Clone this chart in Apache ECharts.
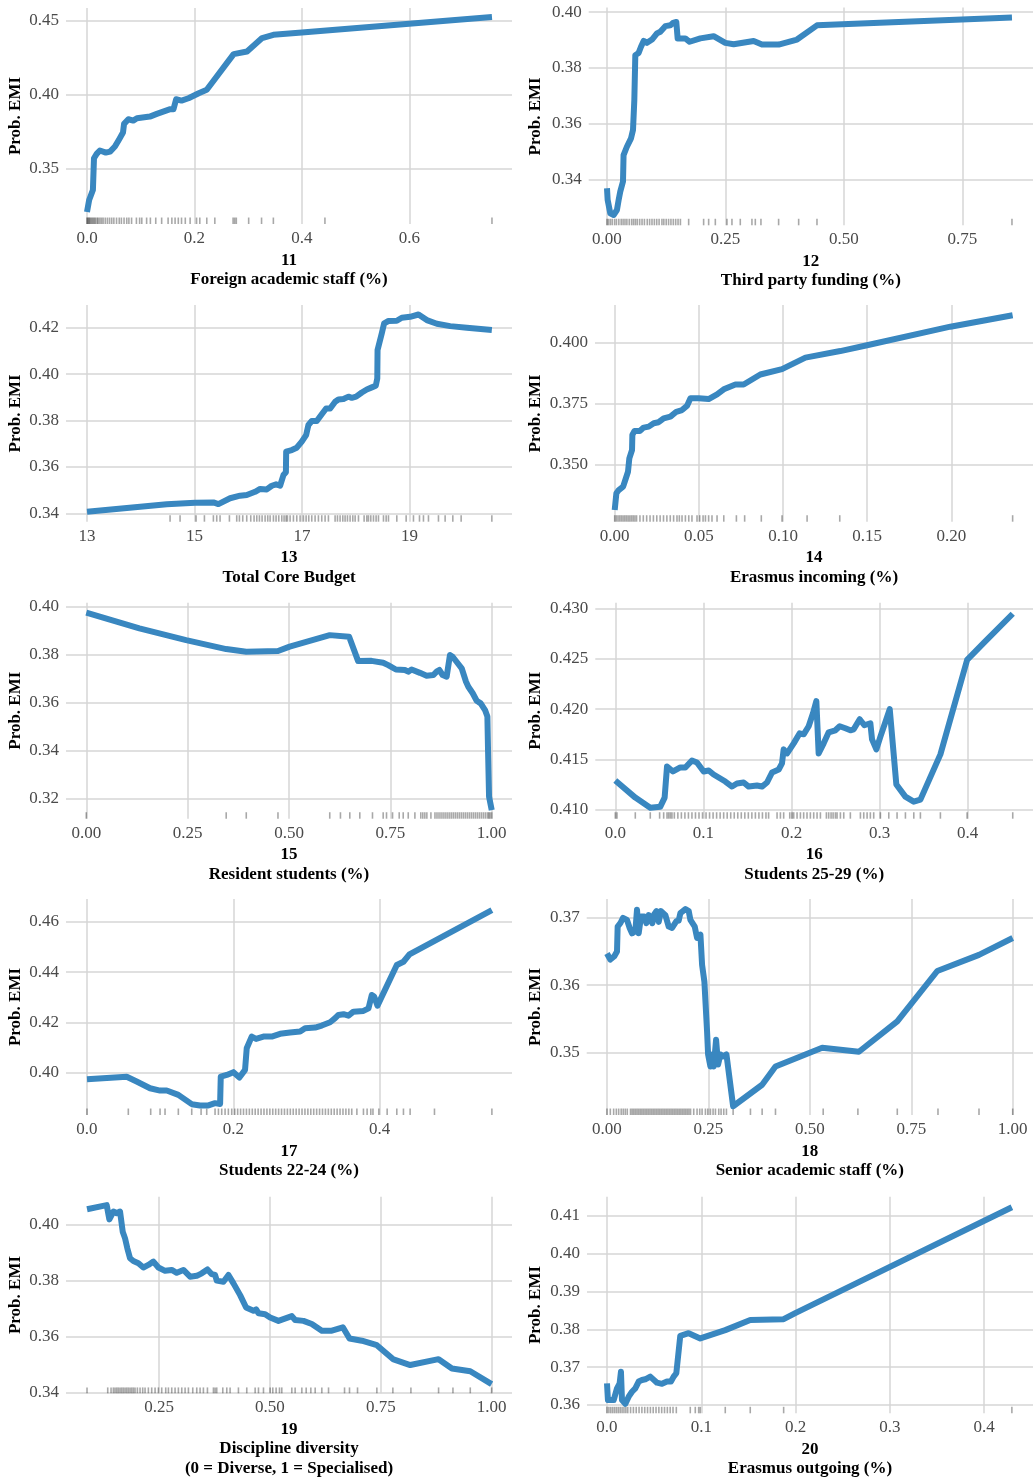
<!DOCTYPE html>
<html><head><meta charset="utf-8">
<script src="https://cdn.jsdelivr.net/npm/echarts@6/dist/echarts.min.js"></script>
<style>html,body{margin:0;padding:0;background:#fff}#c{width:1034px;height:1479px}</style>
</head><body><div id="c"></div><script>
// ---------- DATA ----------
const yTitle = 'Prob. EMI';
const pdp11 = [[0,0.3207],[0.004,0.3288],[0.011,0.3356],[0.013,0.357],[0.018,0.3599],[0.024,0.3622],[0.035,0.3608],[0.043,0.3615],[0.052,0.3649],[0.060,0.3698],[0.067,0.3743],[0.069,0.3802],[0.077,0.3833],[0.086,0.3824],[0.093,0.384],[0.117,0.3851],[0.130,0.3869],[0.155,0.3901],[0.161,0.3901],[0.166,0.3968],[0.176,0.3959],[0.189,0.3975],[0.208,0.4009],[0.223,0.4032],[0.273,0.4273],[0.298,0.429],[0.326,0.4381],[0.347,0.4403],[0.400,0.4419],[0.754,0.4523]];
const rug11 = [0,0.001,0.003,0.004,0.006,0.008,0.010,0.012,0.014,0.016,0.019,0.021,0.024,0.027,0.030,0.034,0.038,0.042,0.046,0.050,0.055,0.060,0.064,0.069,0.074,0.078,0.083,0.092,0.098,0.102,0.111,0.118,0.128,0.139,0.151,0.158,0.164,0.170,0.176,0.183,0.192,0.204,0.210,0.223,0.238,0.272,0.275,0.278,0.301,0.325,0.347,0.443,0.754];
const pdp12 = [[0,0.3368],[0.0014,0.3326],[0.007,0.3278],[0.014,0.3272],[0.021,0.329],[0.0246,0.3326],[0.028,0.3356],[0.0338,0.3392],[0.035,0.3487],[0.042,0.3517],[0.0507,0.3547],[0.0549,0.3577],[0.0577,0.3684],[0.0598,0.3846],[0.0668,0.3854],[0.0718,0.3876],[0.0774,0.3897],[0.0844,0.389],[0.095,0.3902],[0.1055,0.3924],[0.1126,0.393],[0.1231,0.395],[0.1337,0.3953],[0.1393,0.3962],[0.1463,0.3965],[0.1492,0.3906],[0.1534,0.3912],[0.1653,0.3906],[0.1745,0.3894],[0.197,0.3906],[0.2251,0.3914],[0.2498,0.389],[0.2674,0.3885],[0.3096,0.3897],[0.3272,0.3884],[0.3624,0.3884],[0.4011,0.3902],[0.4433,0.3953],[0.8549,0.3981]];
const rug12 = [0,0.003,0.007,0.011,0.016,0.02,0.025,0.03,0.034,0.038,0.042,0.047,0.052,0.056,0.06,0.064,0.069,0.074,0.079,0.085,0.09,0.095,0.1,0.105,0.11,0.116,0.12,0.125,0.13,0.135,0.14,0.145,0.15,0.155,0.1724,0.204,0.2146,0.2287,0.2533,0.2638,0.2814,0.306,0.3131,0.325,0.3623,0.4046,0.4433,0.8549];
const pdp13 = [[13,0.3407],[14.483,0.3439],[15.01,0.3446],[15.351,0.3447],[15.444,0.344],[15.661,0.3465],[15.847,0.3476],[15.972,0.3479],[16.127,0.3493],[16.22,0.3505],[16.344,0.3503],[16.437,0.3519],[16.517,0.3525],[16.592,0.3519],[16.654,0.3565],[16.70,0.3577],[16.705,0.3666],[16.809,0.3673],[16.902,0.3683],[16.995,0.3709],[17.076,0.3737],[17.119,0.3781],[17.181,0.3798],[17.274,0.3798],[17.367,0.3827],[17.448,0.3852],[17.523,0.3852],[17.616,0.3881],[17.677,0.3891],[17.771,0.3893],[17.864,0.3903],[17.926,0.3898],[18.006,0.3903],[18.112,0.3921],[18.205,0.3934],[18.298,0.3943],[18.372,0.395],[18.40,0.3982],[18.405,0.4104],[18.484,0.4176],[18.527,0.4219],[18.608,0.4229],[18.763,0.423],[18.856,0.4243],[19.011,0.4247],[19.166,0.4257],[19.321,0.4233],[19.508,0.4217],[19.756,0.4207],[20.066,0.42],[20.531,0.419]];
const rug13 = [14.545,14.731,15.029,15.184,15.351,15.413,15.475,15.649,15.785,15.835,15.897,15.971,16.046,16.108,16.158,16.207,16.257,16.313,16.362,16.406,16.468,16.517,16.567,16.623,16.666,16.704,16.728,16.778,16.84,16.902,16.964,17.026,17.076,17.125,17.181,17.243,17.305,17.367,17.429,17.491,17.615,17.659,17.708,17.758,17.801,17.845,17.894,17.944,17.988,18.05,18.155,18.205,18.236,18.279,18.329,18.378,18.422,18.515,18.565,18.608,18.763,18.937,19.073,19.185,19.259,19.352,19.538,19.662,19.805,19.96,20.531];
const pdp14 = [[0,0.3314],[0.001,0.3383],[0.0024,0.3396],[0.005,0.341],[0.0063,0.3437],[0.0079,0.3471],[0.0087,0.3526],[0.0103,0.356],[0.0105,0.3622],[0.0117,0.3638],[0.0149,0.3638],[0.0172,0.3652],[0.0202,0.3656],[0.0232,0.367],[0.0261,0.3674],[0.0291,0.369],[0.0331,0.3697],[0.0366,0.3717],[0.04,0.3724],[0.043,0.3742],[0.045,0.3772],[0.0499,0.3772],[0.0558,0.3769],[0.0608,0.3788],[0.0648,0.3809],[0.0717,0.3829],[0.0766,0.3829],[0.0865,0.387],[0.0994,0.3892],[0.1133,0.3939],[0.134,0.3966],[0.1499,0.399],[0.1994,0.4066],[0.2364,0.4113]];
const rug14 = [0,0.001,0.002,0.003,0.004,0.005,0.006,0.007,0.008,0.009,0.010,0.011,0.012,0.013,0.015,0.017,0.019,0.021,0.023,0.025,0.027,0.029,0.031,0.033,0.035,0.037,0.0384,0.04,0.042,0.044,0.0459,0.0489,0.0505,0.0525,0.0539,0.0558,0.0578,0.0608,0.0648,0.0723,0.0772,0.0871,0.0994,0.1143,0.1337,0.2364];
const pdp15 = [[0,0.3976],[0.131,0.391],[0.2463,0.3861],[0.3451,0.3824],[0.3946,0.3813],[0.4728,0.3816],[0.5016,0.3834],[0.6005,0.3882],[0.6483,0.3875],[0.6705,0.3774],[0.7035,0.3775],[0.7323,0.3767],[0.7446,0.3757],[0.7636,0.3739],[0.7858,0.3737],[0.7941,0.373],[0.8023,0.3739],[0.8229,0.3725],[0.8394,0.3713],[0.8558,0.3716],[0.8641,0.373],[0.8707,0.3737],[0.8789,0.3716],[0.8888,0.3709],[0.8929,0.3706],[0.897,0.3799],[0.9036,0.3792],[0.9152,0.3767],[0.9259,0.3744],[0.93,0.3739],[0.9366,0.3688],[0.9423,0.3667],[0.9531,0.364],[0.9629,0.3609],[0.9728,0.3598],[0.9835,0.357],[0.9893,0.3543],[0.9909,0.3404],[0.9934,0.321],[1.0,0.3154]];
const rug15 = [0,0.3451,0.3946,0.4728,0.6005,0.6269,0.6499,0.6746,0.7059,0.7323,0.7405,0.7554,0.7718,0.7817,0.7941,0.8105,0.825,0.83,0.835,0.84,0.85,0.86,0.865,0.87,0.875,0.88,0.885,0.89,0.895,0.9,0.905,0.91,0.915,0.92,0.925,0.93,0.935,0.94,0.945,0.95,0.955,0.96,0.965,0.97,0.975,0.98,0.985,0.99,0.993,0.996,1.0];
const pdp16 = [[0,0.4129],[0.0227,0.4112],[0.0397,0.4102],[0.0511,0.4103],[0.056,0.4112],[0.0587,0.4143],[0.0655,0.4138],[0.0738,0.4142],[0.0795,0.4142],[0.087,0.4149],[0.0927,0.4147],[0.1003,0.4138],[0.106,0.4139],[0.1116,0.4135],[0.1173,0.4132],[0.1249,0.4128],[0.1325,0.4123],[0.1381,0.4126],[0.1457,0.4127],[0.1514,0.4123],[0.1608,0.4124],[0.1665,0.4123],[0.1722,0.4127],[0.1779,0.4137],[0.1855,0.414],[0.1892,0.4146],[0.1911,0.416],[0.195,0.4156],[0.2025,0.4166],[0.2093,0.4176],[0.2138,0.4175],[0.2195,0.4183],[0.2244,0.4196],[0.2282,0.4208],[0.2308,0.4156],[0.2365,0.4166],[0.2422,0.4177],[0.2498,0.4179],[0.2547,0.4183],[0.2611,0.4181],[0.2668,0.4179],[0.2706,0.418],[0.2774,0.419],[0.2827,0.4184],[0.2895,0.4186],[0.2914,0.417],[0.2963,0.416],[0.301,0.4173],[0.3115,0.42],[0.319,0.4125],[0.3292,0.4113],[0.3387,0.4108],[0.3463,0.411],[0.369,0.4155],[0.3993,0.4249],[0.4182,0.4266],[0.4511,0.4295]];
const rug16 = [0,0.0019,0.0227,0.0397,0.0503,0.0549,0.0587,0.0606,0.0625,0.0643,0.067,0.071,0.075,0.079,0.083,0.087,0.091,0.095,0.099,0.103,0.107,0.111,0.115,0.119,0.123,0.127,0.131,0.135,0.139,0.143,0.147,0.151,0.155,0.159,0.163,0.167,0.171,0.174,0.1836,0.1874,0.1911,0.198,0.2006,0.2025,0.2063,0.2101,0.2138,0.2176,0.2214,0.2252,0.229,0.2328,0.2396,0.2422,0.2449,0.2472,0.2498,0.2517,0.2555,0.2593,0.2668,0.2782,0.282,0.2858,0.2895,0.2933,0.3009,0.3104,0.3198,0.3293,0.3388,0.3463,0.369,0.3993,0.4511];
const pdp17 = [[0,0.3975],[0.0543,0.3985],[0.0679,0.3966],[0.0862,0.3939],[0.0999,0.393],[0.109,0.393],[0.1249,0.3913],[0.1432,0.3876],[0.1546,0.3871],[0.166,0.3871],[0.1751,0.388],[0.182,0.3877],[0.1829,0.3985],[0.1911,0.3992],[0.2002,0.4003],[0.2084,0.3982],[0.2161,0.4012],[0.2184,0.4098],[0.2252,0.4144],[0.2312,0.4135],[0.2412,0.4144],[0.2526,0.4144],[0.264,0.4155],[0.2777,0.416],[0.2914,0.4164],[0.2982,0.4177],[0.3119,0.418],[0.321,0.4188],[0.3324,0.4201],[0.3393,0.4217],[0.3438,0.423],[0.3507,0.4233],[0.3575,0.4227],[0.3643,0.4243],[0.378,0.4246],[0.3849,0.4256],[0.3894,0.4309],[0.3926,0.4303],[0.3972,0.4267],[0.4236,0.4428],[0.4327,0.4441],[0.4409,0.447],[0.5536,0.4646]];
const rug17 = [0,0.0565,0.0871,0.0999,0.1067,0.1249,0.1432,0.156,0.1637,0.1751,0.1797,0.1842,0.1888,0.1933,0.1979,0.202,0.206,0.21,0.214,0.218,0.222,0.226,0.23,0.234,0.238,0.242,0.246,0.25,0.254,0.258,0.262,0.266,0.27,0.274,0.278,0.282,0.286,0.29,0.294,0.298,0.302,0.306,0.31,0.314,0.318,0.322,0.326,0.33,0.334,0.338,0.342,0.346,0.35,0.354,0.358,0.362,0.369,0.378,0.383,0.388,0.391,0.399,0.4104,0.4236,0.4327,0.4418,0.4751,0.5536];
const pdp18 = [[0,0.3647],[0.0082,0.3638],[0.0181,0.3643],[0.0247,0.365],[0.0263,0.3687],[0.0329,0.3692],[0.0395,0.37],[0.0493,0.3697],[0.0559,0.3685],[0.0617,0.3677],[0.0699,0.368],[0.074,0.3712],[0.0781,0.3677],[0.0839,0.3702],[0.0921,0.3702],[0.097,0.3692],[0.1028,0.3704],[0.1118,0.3692],[0.1151,0.3704],[0.1217,0.371],[0.1275,0.3694],[0.1332,0.371],[0.1439,0.3704],[0.1521,0.3687],[0.1604,0.3685],[0.1711,0.3695],[0.1768,0.3696],[0.1809,0.3707],[0.1933,0.3713],[0.2015,0.371],[0.2056,0.3697],[0.2163,0.3687],[0.222,0.367],[0.2303,0.3675],[0.2344,0.363],[0.2401,0.3605],[0.2467,0.3531],[0.2492,0.3497],[0.2549,0.3479],[0.259,0.3497],[0.2632,0.3479],[0.2689,0.3519],[0.2738,0.3482],[0.2796,0.3497],[0.2862,0.3494],[0.2944,0.3497],[0.3109,0.342],[0.3824,0.3452],[0.4153,0.3479],[0.5304,0.3507],[0.6209,0.3501],[0.7155,0.3546],[0.8141,0.3621],[0.9169,0.3645],[1.0,0.367]];
const rug18 = [0,0.0082,0.0164,0.023,0.0288,0.035,0.04,0.045,0.05,0.058,0.062,0.066,0.07,0.074,0.078,0.082,0.086,0.09,0.094,0.098,0.102,0.106,0.11,0.114,0.118,0.122,0.126,0.13,0.134,0.138,0.142,0.146,0.15,0.154,0.158,0.162,0.166,0.17,0.174,0.178,0.182,0.186,0.19,0.194,0.198,0.202,0.206,0.2138,0.222,0.2286,0.2344,0.2426,0.2484,0.2549,0.2615,0.2673,0.2755,0.2812,0.2878,0.2944,0.3109,0.3536,0.3824,0.4153,0.5329,0.6184,0.7155,0.8158,0.9169,1.0];
const pdp19 = [[0.0875,0.4055],[0.1319,0.407],[0.1379,0.4019],[0.147,0.4047],[0.1545,0.4041],[0.162,0.4047],[0.168,0.3975],[0.1733,0.3951],[0.1785,0.3915],[0.1845,0.388],[0.1921,0.387],[0.2034,0.3862],[0.2146,0.3847],[0.2259,0.3856],[0.2372,0.3868],[0.2485,0.3847],[0.2635,0.3835],[0.2786,0.3838],[0.2899,0.3828],[0.3049,0.3838],[0.32,0.3814],[0.335,0.3817],[0.3463,0.3826],[0.3591,0.384],[0.3689,0.3823],[0.3764,0.382],[0.3801,0.38],[0.3952,0.3796],[0.4065,0.382],[0.4178,0.379],[0.4328,0.3748],[0.4463,0.3704],[0.4629,0.3692],[0.4689,0.3697],[0.4742,0.3683],[0.4892,0.368],[0.5005,0.3668],[0.5193,0.3656],[0.5494,0.3673],[0.5569,0.3659],[0.5757,0.3656],[0.5945,0.3645],[0.6171,0.3621],[0.6397,0.3621],[0.6645,0.3633],[0.6795,0.3593],[0.7074,0.3585],[0.7412,0.3569],[0.7788,0.3518],[0.8165,0.3498],[0.8804,0.3519],[0.9105,0.3486],[0.9519,0.3476],[1.0,0.343]];
const rug19 = [0.0875,0.1342,0.1417,0.1469,0.1507,0.1545,0.1582,0.162,0.1657,0.1695,0.1733,0.177,0.1808,0.1846,0.1883,0.1921,0.1958,0.2011,0.2071,0.2131,0.2184,0.2259,0.2334,0.241,0.2485,0.256,0.265,0.2711,0.2786,0.2861,0.2936,0.3012,0.3087,0.3162,0.326,0.335,0.3425,0.35,0.3591,0.3726,0.3764,0.3801,0.3937,0.4027,0.4102,0.429,0.4478,0.4667,0.4742,0.4855,0.5005,0.5065,0.514,0.5216,0.5268,0.5494,0.5569,0.572,0.5818,0.5923,0.6021,0.6171,0.6322,0.6683,0.6795,0.6976,0.7412,0.7773,0.818,0.8804,0.9128,0.9519,1.0];
const pdp20 = [[0,0.3657],[0.001,0.3613],[0.0028,0.3611],[0.0071,0.3613],[0.0106,0.3644],[0.0134,0.3657],[0.0148,0.3688],[0.0159,0.3613],[0.0194,0.3603],[0.023,0.3622],[0.0265,0.3635],[0.03,0.3644],[0.0336,0.3662],[0.0371,0.3666],[0.0406,0.3668],[0.0459,0.3675],[0.053,0.3659],[0.0583,0.3656],[0.0636,0.3662],[0.0678,0.3662],[0.0707,0.3675],[0.0735,0.3684],[0.0777,0.3783],[0.0866,0.379],[0.0989,0.3776],[0.1254,0.3798],[0.1519,0.3825],[0.1873,0.3827],[0.1996,0.3843],[0.4293,0.4123]];
const rug20 = [0,0.002,0.004,0.006,0.008,0.01,0.012,0.014,0.016,0.018,0.02,0.022,0.025,0.028,0.031,0.034,0.037,0.04,0.043,0.046,0.049,0.052,0.055,0.058,0.061,0.064,0.067,0.07,0.0735,0.0883,0.0936,0.0972,0.0989,0.1254,0.1519,0.1873,0.4293];

const xTicks11=[0,0.2,0.4,0.6], yTicks11=[0.35,0.40,0.45];
const xTicks12=[0,0.25,0.5,0.75], yTicks12=[0.34,0.36,0.38,0.40];
const xTicks13=[13,15,17,19], yTicks13=[0.34,0.36,0.38,0.40,0.42];
const xTicks14=[0,0.05,0.1,0.15,0.2], yTicks14=[0.35,0.375,0.40];
const xTicks15=[0,0.25,0.5,0.75,1], yTicks15=[0.32,0.34,0.36,0.38,0.40];
const xTicks16=[0,0.1,0.2,0.3,0.4], yTicks16=[0.41,0.415,0.42,0.425,0.43];
const xTicks17=[0,0.2,0.4], yTicks17=[0.40,0.42,0.44,0.46];
const xTicks18=[0,0.25,0.5,0.75,1], yTicks18=[0.35,0.36,0.37];
const xTicks19=[0.25,0.5,0.75,1], yTicks19=[0.34,0.36,0.38,0.40];
const xTicks20=[0,0.1,0.2,0.3,0.4], yTicks20=[0.36,0.37,0.38,0.39,0.40,0.41];

// ---------- LAYOUT / STYLE ----------
const FONT = "'Liberation Serif','Times New Roman',serif";
const LINE = '#3987c0', GRIDC = '#d6d6d6', TICKC = '#4a4a4a';
const panels = [
 {num:'11', name:'Foreign academic staff (%)', line:pdp11, rug:rug11, xt:xTicks11, yt:yTicks11, xd:1, yd:2, xr:[-0.0391,0.7913], yr:[0.3126,0.4584], box:[66,8,512,224], col:0},
 {num:'12', name:'Third party funding (%)', line:pdp12, rug:rug12, xt:xTicks12, yt:yTicks12, xd:2, yd:2, xr:[-0.0386,0.8993], yr:[0.3235,0.4017], box:[588.7,7.5,1033,225.3], col:1},
 {num:'13', name:'Total Core Budget', line:pdp13, rug:rug13, xt:xTicks13, yt:yTicks13, xd:0, yd:2, xr:[12.609,20.906], yr:[0.3364,0.4298], box:[66,305,512,521.7], col:0},
 {num:'14', name:'Erasmus incoming (%)', line:pdp14, rug:rug14, xt:xTicks14, yt:yTicks14, xd:2, yd:3, xr:[-0.0117,0.2485], yr:[0.3266,0.4155], box:[595,305,1033,521.7], col:1},
 {num:'15', name:'Resident students (%)', line:pdp15, rug:rug15, xt:xTicks15, yt:yTicks15, xd:2, yd:2, xr:[-0.05,1.05], yr:[0.3118,0.4017], box:[66,602.7,512,818.7], col:0},
 {num:'16', name:'Students 25-29 (%)', line:pdp16, rug:rug16, xt:xTicks16, yt:yTicks16, xd:1, yd:3, xr:[-0.0227,0.4741], yr:[0.4091,0.4306], box:[595.3,602.7,1033,818.7], col:1},
 {num:'17', name:'Students 22-24 (%)', line:pdp17, rug:rug17, xt:xTicks17, yt:yTicks17, xd:1, yd:2, xr:[-0.0287,0.5811], yr:[0.3833,0.469], box:[66,899,512,1115], col:0},
 {num:'18', name:'Senior academic staff (%)', line:pdp18, rug:rug18, xt:xTicks18, yt:yTicks18, xd:2, yd:2, xr:[-0.05,1.05], yr:[0.3407,0.3728], box:[586.7,899,1033,1115], col:1},
 {num:'19', name:'Discipline diversity\n(0 = Diverse, 1 = Specialised)', line:pdp19, rug:rug19, xt:xTicks19, yt:yTicks19, xd:2, yd:2, xr:[0.0401,1.046], yr:[0.3397,0.41], box:[66,1196.7,512,1393.3], col:0},
 {num:'20', name:'Erasmus outgoing (%)', line:pdp20, rug:rug20, xt:xTicks20, yt:yTicks20, xd:1, yd:2, xr:[-0.0212,0.4517], yr:[0.3578,0.4151], box:[587,1196.7,1033,1413.3], col:1}
];
const titleCenterX = [15.5, 535.8];

const grid=[], xAxis=[], yAxis=[], series=[];
panels.forEach((p,i)=>{
  const [l,t,r,b] = p.box;
  const h = b - t;
  grid.push({left:l, top:t, width:r-l, height:h, containLabel:false, outerBoundsMode:'none'});
  xAxis.push({
    type:'value', gridIndex:i, min:p.xr[0], max:p.xr[1],
    axisLine:{show:false},
    axisTick:{show:false, customValues:p.xt},
    axisLabel:{customValues:p.xt, formatter:v=>(+v).toFixed(p.xd), margin:6, color:TICKC, fontSize:17, fontFamily:FONT, showMinLabel:true, showMaxLabel:true},
    splitLine:{show:true, lineStyle:{color:GRIDC, width:1.5}},
    name:p.num+'\n'+p.name, nameLocation:'middle', nameGap:26.5,
    nameTextStyle:{color:'#000', fontWeight:'bold', fontSize:17, fontFamily:FONT, lineHeight:19.5}
  });
  yAxis.push({
    type:'value', gridIndex:i, min:p.yr[0], max:p.yr[1],
    axisLine:{show:false},
    axisTick:{show:false, customValues:p.yt},
    axisLabel:{customValues:p.yt, formatter:v=>(+v).toFixed(p.yd), margin:7, color:TICKC, fontSize:17, fontFamily:FONT, showMinLabel:true, showMaxLabel:true},
    splitLine:{show:true, lineStyle:{color:GRIDC, width:1.5}},
    name:yTitle, nameLocation:'middle', nameGap:l - titleCenterX[p.col] - 8.5,
    nameTextStyle:{color:'#000', fontWeight:'bold', fontSize:17, fontFamily:FONT}
  });
  const rugLen = 0.03 * h;
  series.push({
    type:'custom', xAxisIndex:i, yAxisIndex:i, silent:true, animation:false, z:1,
    data:p.rug.map(v=>[v, p.yr[0]]),
    renderItem:(params, api)=>{
      const c = api.coord([api.value(0), api.value(1)]);
      return {type:'line', shape:{x1:c[0], y1:c[1], x2:c[0], y2:c[1]-rugLen}, style:{stroke:'rgba(0,0,0,0.34)', lineWidth:1.6}};
    }
  });
  series.push({
    type:'line', xAxisIndex:i, yAxisIndex:i, data:p.line, showSymbol:false, symbol:'none',
    silent:true, animation:false, z:3,
    lineStyle:{color:LINE, width:6, join:'round', cap:'butt'}
  });
});

const chart = echarts.init(document.getElementById('c'), null, {renderer:'canvas'});
chart.setOption({backgroundColor:'#fff', animation:false, grid, xAxis, yAxis, series});
</script></body></html>
